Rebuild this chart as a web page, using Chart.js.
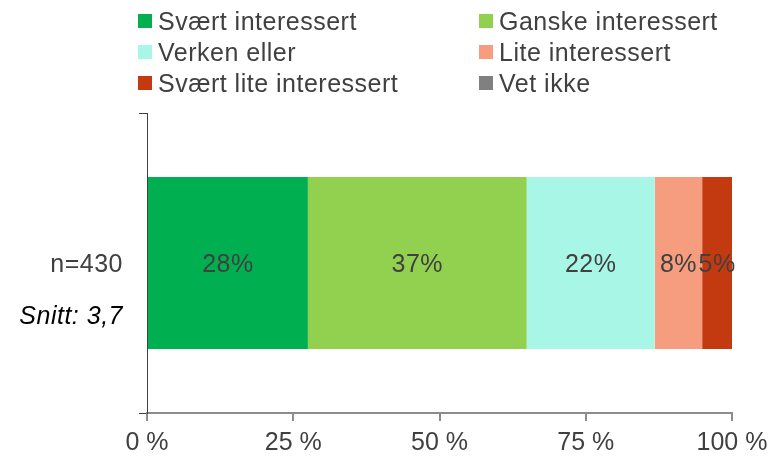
<!DOCTYPE html>
<html>
<head>
<meta charset="utf-8">
<script src="https://cdn.jsdelivr.net/npm/chart.js@4/dist/chart.umd.min.js"></script>
<style>
  html, body { margin: 0; padding: 0; background: #fff; }
  #wrap { position: relative; width: 770px; height: 456px; }
  #legend { position: absolute; left: 0; top: 0; width: 770px; height: 100px; font-family: "Liberation Sans", Arial, sans-serif; font-size: 25px; letter-spacing: 0.5px; color: #404040; }
  .item { position: absolute; white-space: nowrap; line-height: 25px; }
  .box { position: absolute; left: 0; top: 5px; width: 14px; height: 14px; }
  .txt { position: absolute; left: 20px; top: 0; }
</style>
</head>
<body>
<div id="wrap">
  <canvas id="canvas" width="770" height="456"></canvas>
  <div id="legend"></div>
</div>
<script>
var categories = ["n=430"];
var seriesNames = ["Svært interessert", "Ganske interessert", "Verken eller", "Lite interessert", "Svært lite interessert", "Vet ikke"];
var seriesValues = [[27.5], [37.4], [21.9], [8.1], [5.1], [0]];
var seriesColors = ["#00B050", "#92D050", "#A8F7E6", "#F59D7E", "#C43A10", "#808080"];
var xTicks = [0, 25, 50, 75, 100];
var averageLabel = "Snitt: 3,7";

var font = "Liberation Sans";

// legend in two columns, like the original
var legendPos = [[138, 9], [479, 9], [138, 40], [479, 40], [138, 71], [479, 71]];
var legend = document.getElementById("legend");
seriesNames.forEach(function (name, i) {
    var item = document.createElement("div");
    item.className = "item";
    item.style.left = legendPos[i][0] + "px";
    item.style.top = legendPos[i][1] + "px";
    item.innerHTML = '<span class="box" style="background:' + seriesColors[i] + '"></span><span class="txt"></span>';
    item.querySelector(".txt").textContent = name;
    legend.appendChild(item);
});

var segmentLabels = {
    id: "segmentLabels",
    afterDatasetsDraw: function (chart) {
        var ctx = chart.ctx;
        ctx.save();
        ctx.font = "25px '" + font + "'";
        ctx.letterSpacing = "0.5px";
        ctx.fillStyle = "#404040";
        ctx.textAlign = "center";
        ctx.textBaseline = "middle";
        chart.data.datasets.forEach(function (ds, i) {
            var meta = chart.getDatasetMeta(i);
            meta.data.forEach(function (el, j) {
                var v = ds.data[j];
                if (!v) return;
                ctx.fillText(Math.round(v) + "%", (el.x + el.base) / 2, el.y + 2);
            });
        });
        ctx.restore();
    }
};

var categoryLabels = {
    id: "categoryLabels",
    afterDraw: function (chart) {
        var ctx = chart.ctx;
        var y = chart.scales.y;
        ctx.save();
        ctx.textAlign = "right";
        ctx.textBaseline = "middle";
        ctx.letterSpacing = "0.5px";
        categories.forEach(function (c, j) {
            var py = y.getPixelForValue(j);
            ctx.font = "25px '" + font + "'";
            ctx.fillStyle = "#404040";
            ctx.fillText(c, 123, py + 2);
            ctx.font = "italic 25px '" + font + "'";
            ctx.fillStyle = "#000000";
            ctx.fillText(averageLabel, 123, py + 54);
        });
        ctx.restore();
    }
};

var config = {
    type: "bar",
    data: {
        labels: categories,
        datasets: seriesNames.map(function (name, i) {
            return {
                label: name,
                data: seriesValues[i],
                backgroundColor: seriesColors[i],
                borderWidth: 0,
                barPercentage: 0.573,
                categoryPercentage: 1
            };
        })
    },
    options: {
        indexAxis: "y",
        responsive: false,
        animation: false,
        layout: { padding: { top: 113, right: 38, left: 0, bottom: 0 } },
        plugins: {
            legend: { display: false },
            tooltip: { enabled: false }
        },
        scales: {
            x: {
                stacked: true,
                min: 0,
                max: 100,
                afterBuildTicks: function (scale) {
                    scale.ticks = xTicks.map(function (v) { return { value: v }; });
                },
                afterFit: function (scale) {
                    scale.height = 43;
                    scale.paddingLeft = 0;
                    scale.paddingRight = 0;
                },
                ticks: {
                    font: { family: font, size: 25 },
                    color: "#404040",
                    padding: 7,
                    callback: function (v) { return v + " %"; }
                },
                grid: { drawOnChartArea: false, drawTicks: true, tickLength: 8, color: "#8C8C8C", lineWidth: 2 },
                border: { color: "#8C8C8C", width: 2 }
            },
            y: {
                stacked: true,
                afterFit: function (scale) { scale.width = 147; },
                ticks: { display: false },
                grid: { drawOnChartArea: false, drawTicks: true, tickLength: 8, color: "#404040", lineWidth: 1 },
                border: { color: "#404040", width: 1 }
            }
        }
    },
    plugins: [segmentLabels, categoryLabels]
};

window.myBar = new Chart(document.getElementById("canvas"), config);
</script>
</body>
</html>
